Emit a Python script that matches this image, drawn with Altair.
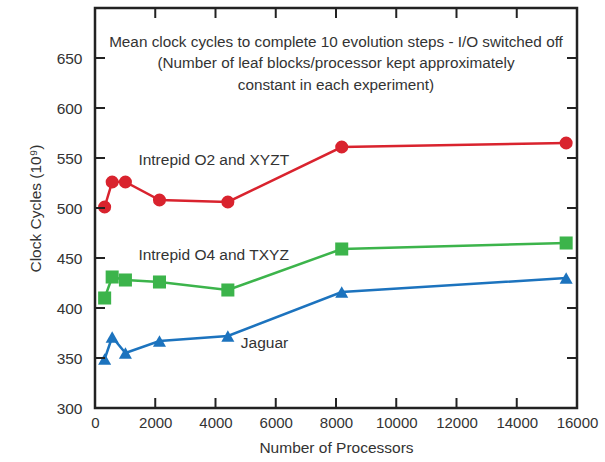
import altair as alt
import pandas as pd

# ---- data ----
processors = [320, 570, 1010, 2140, 4410, 8190, 15640]
intrepid_o2 = [501, 526, 526, 508, 506, 561, 565]
intrepid_o4 = [410, 431, 428, 426, 418, 459, 465]
jaguar = [349, 371, 355, 367, 372, 416, 430]

series_names = ["Intrepid O2 and XYZT", "Intrepid O4 and TXYZ", "Jaguar"]
series_colors = ["#d9232e", "#3cb44b", "#1c73be"]
series_shapes = ["circle", "square", "triangle-up"]

label_text = ["Intrepid O2 and XYZT", "Intrepid O4 and TXYZ", "Jaguar"]
label_x = [1440, 1440, 4840]
label_y = [548, 453, 365]

title_lines = [
    "Mean clock cycles to complete 10 evolution steps - I/O switched off",
    "(Number of leaf blocks/processor kept approximately",
    "constant in each experiment)",
]
title_x = [8000, 8000, 8000]
title_y = [666, 645, 623]

x_ticks = [0, 2000, 4000, 6000, 8000, 10000, 12000, 14000, 16000]
y_ticks = [300, 350, 400, 450, 500, 550, 600, 650]
inner_x_ticks = [2000, 4000, 6000, 8000, 10000, 12000, 14000]
inner_y_ticks = [350, 400, 450, 500, 550, 600, 650]

FONT = "Liberation Sans"
W, H = 482, 400

rows = []
for name, vals in zip(series_names, [intrepid_o2, intrepid_o4, jaguar]):
    for p, v in zip(processors, vals):
        rows.append({"series": name, "procs": p, "cycles": v})
df = pd.DataFrame(rows)

xscale = alt.Scale(domain=[0, 16000], nice=False, zero=False)
yscale = alt.Scale(domain=[300, 700], nice=False, zero=False)
cscale = alt.Scale(domain=series_names, range=series_colors)
sscale = alt.Scale(domain=series_names, range=series_shapes)

xenc = alt.X("procs:Q", scale=xscale, axis=alt.Axis(
    values=x_ticks, title="Number of Processors", ticks=False, domain=False,
    grid=False, labelFont=FONT, labelFontSize=15, labelColor="#333",
    labelPadding=7, titleFont=FONT, titleFontSize=15.5, titleFontWeight="normal",
    titleColor="#333", titlePadding=10, format="d", labelFlush=False))
yenc = alt.Y("cycles:Q", scale=yscale, axis=alt.Axis(
    values=y_ticks, title="Clock Cycles (10⁹)", ticks=False, domain=False,
    grid=False, labelFont=FONT, labelFontSize=15.5, labelColor="#333",
    labelPadding=13, titleFont=FONT, titleFontSize=15.5, titleFontWeight="normal",
    titleColor="#333", titlePadding=13, labelFlush=False))

base = alt.Chart(df)
lines = base.mark_line(strokeWidth=2.5).encode(
    x=xenc, y=yenc,
    color=alt.Color("series:N", scale=cscale, legend=None),
    detail="series:N",
)
points = base.mark_point(filled=True, opacity=1, size=170).encode(
    x=alt.X("procs:Q", scale=xscale),
    y=alt.Y("cycles:Q", scale=yscale),
    color=alt.Color("series:N", scale=cscale, legend=None),
    shape=alt.Shape("series:N", scale=sscale, legend=None),
)

labels_df = pd.DataFrame({"text": label_text, "x": label_x, "y": label_y})
labels = alt.Chart(labels_df).mark_text(
    align="left", baseline="middle", font=FONT, fontSize=15.5, color="#333"
).encode(x=alt.X("x:Q", scale=xscale), y=alt.Y("y:Q", scale=yscale), text="text:N")

title_df = pd.DataFrame({"text": title_lines, "x": title_x, "y": title_y})
title = alt.Chart(title_df).mark_text(
    align="center", baseline="middle", font=FONT, fontSize=15.3, color="#333"
).encode(x=alt.X("x:Q", scale=xscale), y=alt.Y("y:Q", scale=yscale), text="text:N")

xt = pd.DataFrame({"v": inner_x_ticks})
yt = pd.DataFrame({"v": inner_y_ticks})
tick_style = dict(color="#222", strokeWidth=2)
bottom_ticks = alt.Chart(xt).mark_rule(**tick_style).encode(
    x=alt.X("v:Q", scale=xscale), y=alt.value(H), y2=alt.value(H - 10))
top_ticks = alt.Chart(xt).mark_rule(**tick_style).encode(
    x=alt.X("v:Q", scale=xscale), y=alt.value(0), y2=alt.value(10))
left_ticks = alt.Chart(yt).mark_rule(**tick_style).encode(
    y=alt.Y("v:Q", scale=yscale), x=alt.value(0), x2=alt.value(10))
right_ticks = alt.Chart(yt).mark_rule(**tick_style).encode(
    y=alt.Y("v:Q", scale=yscale), x=alt.value(W), x2=alt.value(W - 10))

chart = alt.layer(
    lines, points, labels, title, bottom_ticks, top_ticks, left_ticks, right_ticks
).properties(
    width=W, height=H, autosize="none",
    padding={"left": 95, "top": 8, "right": 28, "bottom": 54},
    background="white",
).configure_view(stroke="#222", strokeWidth=2.5)

chart.save("out.html", embed_options={"renderer": "svg", "actions": False})
